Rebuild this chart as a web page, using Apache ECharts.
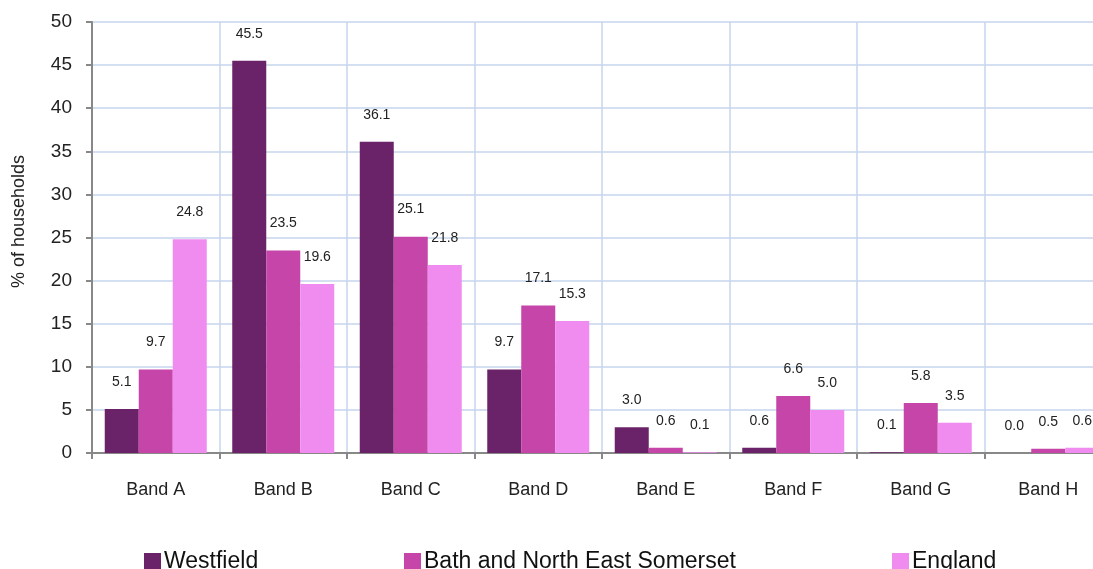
<!DOCTYPE html>
<html>
<head>
<meta charset="utf-8">
<script src="https://cdn.jsdelivr.net/npm/echarts@6/dist/echarts.min.js"></script>
<style>
  html, body { margin: 0; padding: 0; background: #fff; }
  #chart { width: 1093px; height: 569px; }
</style>
</head>
<body>
<div id="chart"></div>
<script>
// council tax bands
var categories = ['Band A', 'Band B', 'Band C', 'Band D', 'Band E', 'Band F', 'Band G', 'Band H'];
// % of households
var westfield = [5.1, 45.5, 36.1, 9.7, 3.0, 0.6, 0.1, 0.0];
var bathNES = [9.7, 23.5, 25.1, 17.1, 0.6, 6.6, 5.8, 0.5];
var england = [24.8, 19.6, 21.8, 15.3, 0.1, 5.0, 3.5, 0.6];
var yTicks = [0, 5, 10, 15, 20, 25, 30, 35, 40, 45, 50];

var chart = echarts.init(document.getElementById('chart'));

var font = 'Liberation Sans, Arial, sans-serif';

function barLabel() {
  return {
    show: true,
    position: 'top',
    distance: 20,
    color: '#222',
    fontSize: 14,
    fontFamily: font,
    formatter: function (p) { return p.value.toFixed(1); }
  };
}

function legendAt(left, name) {
  return {
    data: [name],
    left: left,
    top: 545,
    itemWidth: 17,
    itemHeight: 17,
    itemGap: 4,
    icon: 'rect',
    textStyle: { fontSize: 23, color: '#111', fontFamily: font, padding: [0, 0, 0, -2] }
  };
}

var option = {
  animation: false,
  backgroundColor: '#fff',
  // the plot runs off the right edge of the picture
  grid: { left: 92, width: 1020, top: 22, bottom: 116, outerBoundsMode: 'none' },
  legend: [
    legendAt(139, 'Westfield'),
    legendAt(399, 'Bath and North East Somerset'),
    legendAt(887, 'England')
  ],
  xAxis: {
    type: 'category',
    data: categories,
    axisLine: { lineStyle: { color: '#888', width: 2 } },
    axisTick: { show: true, length: 6, lineStyle: { color: '#888', width: 2 } },
    axisLabel: { color: '#222', fontSize: 18, margin: 28, fontFamily: font },
    splitLine: { show: true, lineStyle: { color: '#c6d6ec', width: 1.5 } }
  },
  yAxis: {
    type: 'value',
    min: yTicks[0],
    max: yTicks[yTicks.length - 1],
    interval: 5,
    name: '% of households',
    nameLocation: 'middle',
    nameGap: 64,
    nameRotate: 90,
    nameTextStyle: { fontSize: 18, color: '#222', fontFamily: font, padding: [0, 0, 0, 32] },
    axisLine: { show: true, lineStyle: { color: '#888', width: 2 } },
    axisTick: { show: true, length: 6, lineStyle: { color: '#888', width: 2 } },
    axisLabel: { color: '#222', fontSize: 19, margin: 20, fontFamily: font },
    splitLine: { show: true, lineStyle: { color: '#c6d6ec', width: 1.5 } }
  },
  series: [
    {
      name: 'Westfield', type: 'bar', data: westfield,
      barGap: '0%', barCategoryGap: '20%',
      itemStyle: { color: '#6a2368' },
      label: barLabel()
    },
    {
      name: 'Bath and North East Somerset', type: 'bar', data: bathNES,
      itemStyle: { color: '#c545a8' },
      label: barLabel()
    },
    {
      name: 'England', type: 'bar', data: england,
      itemStyle: { color: '#f08bef' },
      label: barLabel()
    }
  ]
};

chart.setOption(option);
</script>
</body>
</html>
